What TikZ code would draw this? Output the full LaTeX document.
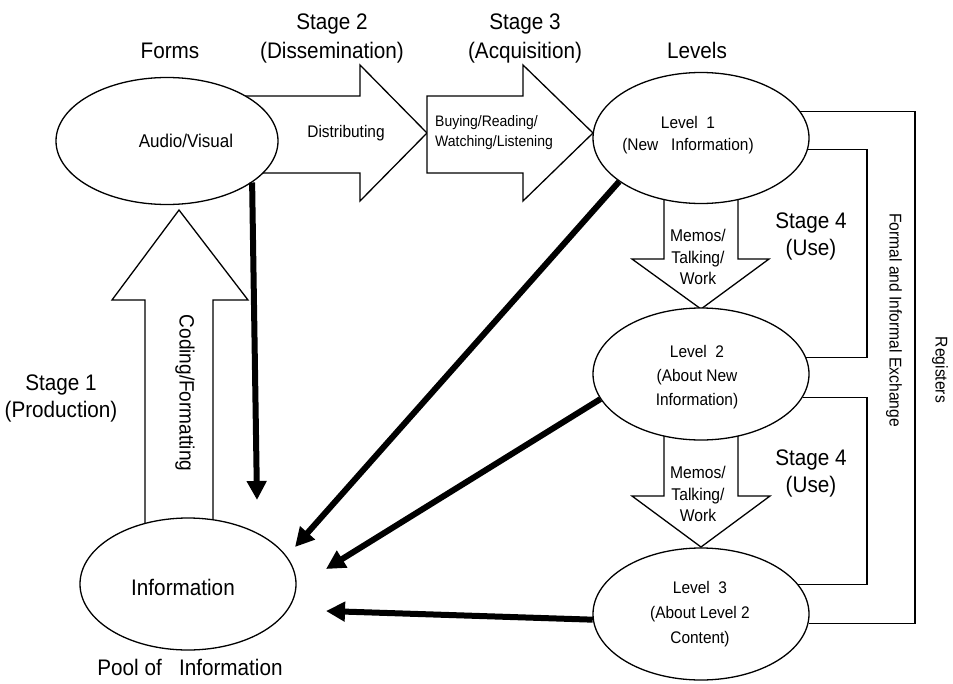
\documentclass[tikz,border=0pt]{standalone}
\usepackage{fontspec}
\setmainfont{Liberation Sans}[FakeStretch=0.92]
\usetikzlibrary{shapes.geometric,arrows.meta}

\begin{document}
\begin{tikzpicture}[x=1pt,y=-1pt]
    % Define styles
    \tikzstyle{level} = [ellipse, draw=black, line width=1.3pt, fill=white, minimum width=216pt, minimum height=131pt, inner sep=0pt]
    \tikzstyle{blockarrow} = [draw=black, line width=1.3pt, fill=white, line join=miter]
    \tikzstyle{flow} = [line width=6pt, -{Triangle[length=19pt,width=19pt]}]
    \tikzstyle{link} = [draw=black, line width=1.2pt]
    \tikzstyle{stage} = [align=center, inner sep=0pt, font=\fontsize{22.5}{29}\selectfont]
    \tikzstyle{heading} = [anchor=base, inner sep=0pt, font=\fontsize{22.5}{27}\selectfont]
    \tikzstyle{leveltext} = [align=center, inner sep=0pt, font=\fontsize{16.8}{24}\selectfont]
    \tikzstyle{memo} = [align=center, inner sep=0pt, font=\fontsize{17}{21.5}\selectfont]
    \tikzstyle{sidetext} = [rotate=-90, inner sep=0pt, font=\fontsize{17}{20}\selectfont]

    \useasboundingbox (0,0) rectangle (953,683);

    % Block arrows (ellipses are drawn over their ends)
    \draw[blockarrow] (230,96) -- (360,96) -- (360,65) -- (427,133) -- (360,201) -- (360,173) -- (230,173) -- cycle;
    \draw[blockarrow] (427,96) -- (523,96) -- (523,65) -- (593,133) -- (523,201) -- (523,173) -- (427,173) -- cycle;
    \draw[blockarrow] (145,540) -- (145,300) -- (112,300) -- (179,210) -- (248,300) -- (213,300) -- (213,540) -- cycle;
    \draw[blockarrow] (664,180) -- (664,259) -- (632,259) -- (701,309) -- (769,259) -- (738,259) -- (738,180) -- cycle;
    \draw[blockarrow] (664,420) -- (664,496) -- (632,496) -- (701,547) -- (770,496) -- (738,496) -- (738,420) -- cycle;

    % Ellipses
    \node[level, minimum width=222pt, minimum height=127pt] (av) at (167,141) {};
    \node[level, minimum height=132pt] (info) at (188,584) {};
    \node[level] (lvlone) at (701,138) {};
    \node[level, minimum height=132pt] (lvltwo) at (701,374) {};
    \node[level, minimum height=132pt] (lvlthree) at (701,614) {};

    % Texts in the ellipses
    \node[anchor=base, inner sep=0pt, font=\fontsize{18.5}{22}\selectfont] (avtext) at (186,147) {Audio/Visual};
    \node[heading] (infotext) at (183,595) {Information};
    \node[leveltext, font=\fontsize{16.8}{22}\selectfont] (lvlonetext) at (688,135) {Level\ \ 1\\(New\ \ \ Information)};
    \node[leveltext] (lvltwotext) at (697,377) {Level\ \ 2\\(About New\\Information)};
    \node[leveltext, font=\fontsize{16.8}{25}\selectfont] (lvlthreetext) at (700,614) {Level\ \ 3\\(About Level 2\\Content)};

    % Headings and stages
    \node[heading] (forms) at (170,58) {Forms};
    \node[heading] (levels) at (697,58) {Levels};
    \node[stage] (stagetwo) at (332,38) {Stage 2\\(Dissemination)};
    \node[stage] (stagethree) at (525,38) {Stage 3\\(Acquisition)};
    \node[stage, font=\fontsize{22.5}{27}\selectfont] (stageone) at (61,398) {Stage 1\\(Production)};
    \node[stage, font=\fontsize{22.5}{27}\selectfont] (stagefoura) at (811,236) {Stage 4\\(Use)};
    \node[stage, font=\fontsize{22.5}{27}\selectfont] (stagefourb) at (811,473) {Stage 4\\(Use)};
    \node[heading] (pool) at (190,675) {Pool of\ \ \ Information};

    % Texts in the block arrows
    \node[anchor=base, inner sep=0pt, font=\fontsize{16.8}{20}\selectfont] (distr) at (346,137) {Distributing};
    \node[align=left, anchor=west, inner sep=0pt, font=\fontsize{15.2}{20}\selectfont] (buying) at (435,133) {Buying/Reading/\\Watching/Listening};
    \node[memo] (memoa) at (698,257) {Memos/\\Talking/\\Work};
    \node[memo] (memob) at (698,494) {Memos/\\Talking/\\Work};
    \node[sidetext, font=\fontsize{20.7}{24}\selectfont] (coding) at (185,393) {Coding/Formatting};

    % Exchange lines
    \coordinate (fx) at (867,0);
    \coordinate (rx) at (915,0);
    \draw[link] (lvlone.-6) -| (fx |- lvltwo.9) -- (lvltwo.9);
    \draw[link] (lvltwo.-13) -| (fx |- lvlthree.17) -- (lvlthree.17);
    \draw[link] (lvlone.15) -| (rx |- lvlthree.-5) -- (lvlthree.-5);
    \node[sidetext] (formal) at (894,320) {Formal and Informal Exchange};
    \node[sidetext] (registers) at (940,370) {Registers};

    % Flows back to the pool
    \coordinate (tipav) at (257,500);
    \coordinate (tipone) at (295,547);
    \coordinate (tiptwo) at (326,569);
    \coordinate (tipthree) at (326,611);
    \draw[flow] (av.-26) -- (tipav);
    \draw[flow] (lvlone.-152) -- (tipone);
    \draw[flow] (lvltwo.-166) -- (tiptwo);
    \draw[flow] (lvlthree.-177) -- (tipthree);

\end{tikzpicture}
\end{document}
